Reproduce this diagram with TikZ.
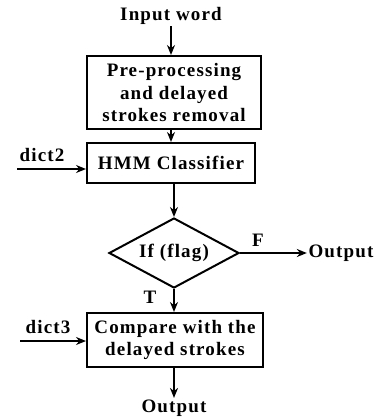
\documentclass[tikz,border=0pt]{standalone}
\usepackage{fontspec}
\setmainfont[LetterSpace=6]{Liberation Serif}
\usetikzlibrary{shapes.geometric,arrows.meta}

\tikzset{every picture/.style={line width=2pt}}
\tikzset{
  blockbox/.style={draw,rectangle,inner sep=1pt,align=center},
  txtnode/.style={inner sep=0.75pt},
  flow/.style={-{Stealth[length=10pt,width=8pt]}}
}

\begin{document}
\begin{tikzpicture}[x=1pt,y=1pt,yscale=-1,xscale=1,font=\fontsize{19}{22.5}\selectfont\bfseries]
\useasboundingbox (0,0) rectangle (377,418);

% Text Node
\node [txtnode] (in) at (171,16) {Input word};
% Shape: Rectangle
\node [blockbox,minimum width=174pt,minimum height=73pt] (pre) at (174,92.5) {Pre-processing\\and delayed\\strokes removal};
% Shape: Rectangle
\node [blockbox,minimum width=168pt,minimum height=40pt] (hmm) at (171,163) {HMM Classifier};
% Shape: Diamond
\node [draw,diamond,aspect=1.86,inner sep=0pt,minimum width=130pt,minimum height=70pt] (flag) at (174,253) {If (flag)};
% Shape: Rectangle
\node [blockbox,minimum width=176pt,minimum height=54pt] (cmp) at (175,340) {Compare with the\\delayed strokes};

% Text Node
\node [txtnode] (d2) at (42,155) {dict2};
\coordinate (d2s) at (17,169);
% Text Node
\node [txtnode] (d3) at (48,327) {dict3};
\coordinate (d3s) at (20,341);
% Text Node
\node [txtnode] (f) at (258,240) {F};
% Text Node
\node [txtnode] (t) at (150,297) {T};
% Text Node
\node [txtnode] (out1) at (341,253) {Output};
% Text Node
\node [txtnode] (out2) at (174,408) {Output};

%Straight Lines
\draw [flow] (in) -- (in |- pre.north);
\draw [flow] (pre.south -| hmm) -- (hmm);
\draw [flow] (d2s) -- (d2s -| hmm.west);
\draw [flow] (hmm.south -| flag) -- (flag);
\draw [flow] (flag) -- (out1);
\draw [flow] (flag) -- (flag |- cmp.north);
\draw [flow] (d3s) -- (d3s -| cmp.west);
\draw [flow] (cmp.south -| out2) -- (out2);

\end{tikzpicture}
\end{document}
